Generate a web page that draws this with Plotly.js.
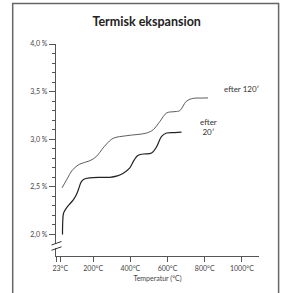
<!DOCTYPE html>
<html>
<head>
<meta charset="utf-8">
<script src="https://cdn.plot.ly/plotly-3.0.1.min.js"></script>
<style>
html,body{margin:0;padding:0;background:#fff;}
#chart{width:281px;height:293px;}
</style>
</head>
<body>
<div id="chart"></div>
<script>
// Temperature (°C) and thermal expansion (%)
var temp20 = [35, 36, 40, 50, 65, 92, 110, 122, 135, 150, 182, 240, 290, 330, 360, 397, 420, 440, 470, 514, 541, 568, 595, 640, 675];
var exp20  = [2.00, 2.12, 2.22, 2.26, 2.30, 2.36, 2.42, 2.48, 2.55, 2.58, 2.595, 2.60, 2.60, 2.615, 2.64, 2.70, 2.78, 2.83, 2.845, 2.855, 2.92, 3.03, 3.065, 3.07, 3.075];

var temp120 = [33, 57, 90, 128, 182, 218, 250, 272, 308, 380, 487, 523, 559, 595, 640, 666, 702, 740, 780, 818];
var exp120  = [2.49, 2.574, 2.68, 2.739, 2.774, 2.82, 2.90, 2.95, 3.01, 3.037, 3.065, 3.10, 3.187, 3.276, 3.29, 3.30, 3.40, 3.43, 3.432, 3.434];

var xTickVals = [0, 23, 200, 400, 600, 800, 1000];
var xTickText = ['', '23°C', '200°C', '400°C', '600°C', '800°C', '1000°C'];
var yTickVals = [2.0, 2.5, 3.0, 3.5, 4.0];
var yTickText = ['2,0 %', '2,5 %', '3,0 %', '3,5 %', '4,0 %'];
var yMinorVals = [2.1, 2.2, 2.3, 2.4, 2.6, 2.7, 2.8, 2.9, 3.1, 3.2, 3.3, 3.4, 3.6, 3.7, 3.8, 3.9];

var labels = {title: 'Termisk ekspansion', xTitle: 'Temperatur (°C)', s120: 'efter 120′', s20: 'efter<br>20′'};

var FONT = 'Lato, "Open Sans", sans-serif';

var traces = [
  {x: temp120, y: exp120, mode: 'lines', line: {color: '#333', width: 0.8, shape: 'spline', smoothing: 1}, hoverinfo: 'skip', showlegend: false},
  {x: temp20, y: exp20, mode: 'lines', line: {color: '#222', width: 1.2, shape: 'spline', smoothing: 1}, hoverinfo: 'skip', showlegend: false}
];

// helpers to convert pixel positions to paper coordinates (plot area l=56, t=44, w=203, h=212)
function px(x){ return (x - 56) / 203; }
function py(y){ return (256 - y) / 212; }

var layout = {
  width: 281, height: 293,
  margin: {l: 56, r: 22, t: 44, b: 37, pad: 0},
  paper_bgcolor: '#fff', plot_bgcolor: '#fff',
  font: {family: FONT, color: '#444', size: 7},
  title: {text: '<b>' + labels.title + '</b>', x: 0.522, xanchor: 'center', y: 1 - 21.5/293, yanchor: 'middle',
          font: {family: FONT, size: 12.5, color: '#222'}},
  xaxis: {
    range: [0, 1092], showgrid: false, zeroline: false,
    showline: true, linecolor: '#555', linewidth: 1.2,
    ticks: 'outside', ticklen: 5, tickwidth: 1, tickcolor: '#555',
    tickmode: 'array', tickvals: xTickVals, ticktext: xTickText,
    tickfont: {family: FONT, size: 7, color: '#444'},
    title: {text: labels.xTitle, font: {family: FONT, size: 7, color: '#444'}, standoff: 5},
    fixedrange: true
  },
  yaxis: {
    range: [1.7737, 4.0], showgrid: false, zeroline: false,
    showline: true, linecolor: '#555', linewidth: 1.2,
    ticks: 'outside', ticklen: 6, tickwidth: 1, tickcolor: '#555',
    tickmode: 'array', tickvals: yTickVals, ticktext: yTickText,
    tickfont: {family: FONT, size: 7, color: '#444'},
    minor: {tickmode: 'array', tickvals: yMinorVals, ticks: 'outside', ticklen: 3, tickwidth: 1, tickcolor: '#555', showgrid: false},
    fixedrange: true
  },
  shapes: [
    // outer frame
    {type: 'rect', xref: 'paper', yref: 'paper', x0: px(12.7), x1: px(278.6), y0: py(310), y1: py(3.6),
     line: {color: '#666', width: 1.5}, fillcolor: 'rgba(0,0,0,0)', layer: 'below'},
    // axis break gap
    {type: 'rect', xref: 'paper', yref: 'paper', x0: px(53), x1: px(59), y0: py(248.3), y1: py(243.3),
     line: {width: 0}, fillcolor: '#fff', layer: 'above'},
    // break slashes
    {type: 'line', xref: 'paper', yref: 'paper', x0: px(51.5), y0: py(245), x1: px(61.5), y1: py(241.5),
     line: {color: '#333', width: 1}, layer: 'above'},
    {type: 'line', xref: 'paper', yref: 'paper', x0: px(51.5), y0: py(250.3), x1: px(61.5), y1: py(246.8),
     line: {color: '#333', width: 1}, layer: 'above'}
  ],
  annotations: [
    {x: 1000, y: 3.53, xref: 'x', yref: 'y', text: labels.s120, showarrow: false,
     font: {family: FONT, size: 8, color: '#333'}, xanchor: 'center', yanchor: 'middle'},
    {x: 822, y: 3.125, xref: 'x', yref: 'y', text: labels.s20, showarrow: false,
     font: {family: FONT, size: 8, color: '#333'}, xanchor: 'center', yanchor: 'middle'}
  ]
};

Plotly.newPlot('chart', traces, layout, {staticPlot: true, displayModeBar: false});
</script>
</body>
</html>
